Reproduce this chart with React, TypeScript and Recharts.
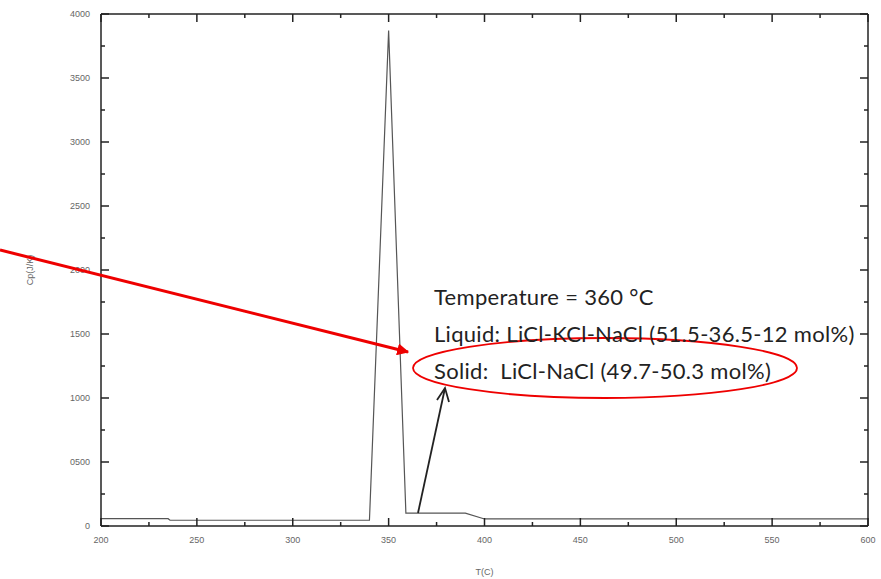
import { Line, LineChart, XAxis, YAxis } from "recharts";

// T (°C) vs Cp (J/K)
const temps = [200, 235, 236, 340, 350, 359, 390, 400, 600];
const cp = [57, 57, 45, 45, 3870, 100, 100, 55, 55];

const xTicks = [200, 225, 250, 275, 300, 325, 350, 375, 400, 425, 450, 475, 500, 525, 550, 575, 600];
const yTicks = [0, 250, 500, 750, 1000, 1250, 1500, 1750, 2000, 2250, 2500, 2750, 3000, 3250, 3500, 3750, 4000];
const yLabel = (v: number) => (v === 500 ? "0500" : String(v));

const notes = [
  "Temperature = 360 °C",
  "Liquid: LiCl-KCl-NaCl (51.5-36.5-12 mol%)",
  "Solid:  LiCl-NaCl (49.7-50.3 mol%)",
];

const data = temps.map((t, i) => ({ t, cp: cp[i] }));

const AXIS = "#222";
const LABEL = "#666";
const SMALL = "Liberation Sans, Arial";

function BottomTick({ x, y, payload }: any) {
  const major = payload.value % 50 === 0;
  return (
    <g>
      <line x1={x} x2={x} y1={y} y2={y - (major ? 8 : 4)} stroke={AXIS} strokeWidth={1.5} />
      {major && (
        <text x={x} y={y + 17} textAnchor="middle" fontSize={9} fill={LABEL} fontFamily={SMALL}>
          {payload.value}
        </text>
      )}
    </g>
  );
}

function TopTick({ x, y, payload }: any) {
  const major = payload.value % 50 === 0;
  return <line x1={x} x2={x} y1={y} y2={y + (major ? 8 : 4)} stroke={AXIS} strokeWidth={1.5} />;
}

function LeftTick({ x, y, payload }: any) {
  const major = payload.value % 500 === 0;
  return (
    <g>
      <line x1={x} x2={x + (major ? 8 : 4)} y1={y} y2={y} stroke={AXIS} strokeWidth={1.5} />
      {major && (
        <text x={x - 11} y={y + 3} textAnchor="end" fontSize={9} fill={LABEL} fontFamily={SMALL}>
          {yLabel(payload.value)}
        </text>
      )}
    </g>
  );
}

function RightTick({ x, y, payload }: any) {
  const major = payload.value % 500 === 0;
  return <line x1={x} x2={x - (major ? 8 : 4)} y1={y} y2={y} stroke={AXIS} strokeWidth={1.5} />;
}

export default function App() {
  return (
    <div style={{ position: "absolute", left: 0, top: 0, width: 881, height: 579, background: "#fff" }}>
      <LineChart width={881} height={579} data={data} margin={{ top: 13, right: 12, left: 0, bottom: 0 }}>
        <XAxis
          dataKey="t"
          type="number"
          domain={[200, 600]}
          ticks={xTicks}
          interval={0}
          height={53}
          tickSize={0}
          tickMargin={0}
          tick={<BottomTick />}
          axisLine={{ stroke: AXIS, strokeWidth: 1.5 }}
          label={{ value: "T(C)", position: "insideBottom", offset: 4, fontSize: 9, fill: LABEL, fontFamily: SMALL }}
        />
        <XAxis
          xAxisId="top"
          orientation="top"
          dataKey="t"
          type="number"
          domain={[200, 600]}
          ticks={xTicks}
          interval={0}
          height={1}
          tickSize={0}
          tickMargin={0}
          tick={<TopTick />}
          axisLine={{ stroke: AXIS, strokeWidth: 1.5 }}
        />
        <YAxis
          type="number"
          domain={[0, 4000]}
          ticks={yTicks}
          interval={0}
          width={101}
          tickSize={0}
          tickMargin={0}
          tick={<LeftTick />}
          axisLine={{ stroke: AXIS, strokeWidth: 1.5 }}
        />
        <YAxis
          yAxisId="right"
          orientation="right"
          type="number"
          domain={[0, 4000]}
          ticks={yTicks}
          interval={0}
          width={1}
          tickSize={0}
          tickMargin={0}
          tick={<RightTick />}
          axisLine={{ stroke: AXIS, strokeWidth: 1.5 }}
        />
        <Line dataKey="cp" type="linear" stroke="#555" strokeWidth={1.2} dot={false} isAnimationActive={false} />
        <Line dataKey="cp" xAxisId="top" yAxisId="right" type="linear" stroke="none" dot={false} legendType="none" isAnimationActive={false} />
      </LineChart>

      <svg width={881} height={579} style={{ position: "absolute", left: 0, top: 0, pointerEvents: "none" }}>
        <defs>
          <marker id="redHead" viewBox="0 0 10 10" refX="9" refY="5" markerWidth="4" markerHeight="4" orient="auto">
            <path d="M0,0 L10,5 L0,10 z" fill="#e00" />
          </marker>
        </defs>
        <text x={33} y={270} transform="rotate(-90 33 270)" textAnchor="middle" fontSize={9} fill={LABEL} fontFamily={SMALL}>
          Cp(J/K)
        </text>
        <line x1={0} y1={250} x2={408} y2={352} stroke="#e00" strokeWidth={3} markerEnd="url(#redHead)" />
        <ellipse cx={605} cy={368} rx={192} ry={30} fill="none" stroke="#e00" strokeWidth={1.8} />
        <line x1={418} y1={513} x2={445} y2={388} stroke="#222" strokeWidth={1.8} />
        <polyline points="437,400 445,388 449,402" fill="none" stroke="#222" strokeWidth={1.8} />
        {notes.map((s, i) => (
          <text key={i} x={434} y={305 + i * 37} fontSize={22} letterSpacing={0.3} fill="#222" fontFamily="Lato, Open Sans, sans-serif" xmlSpace="preserve">
            {s}
          </text>
        ))}
      </svg>
    </div>
  );
}
